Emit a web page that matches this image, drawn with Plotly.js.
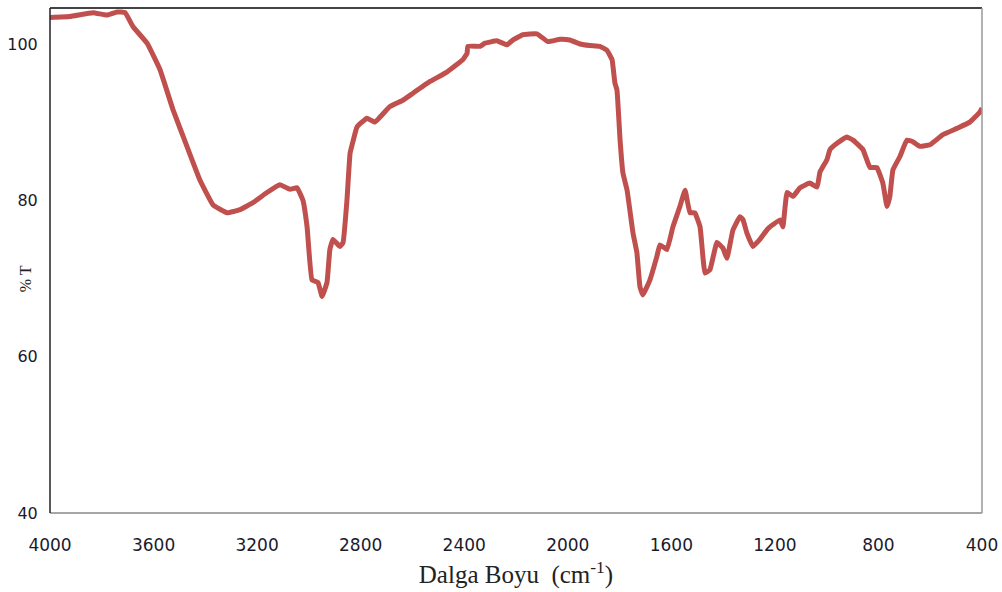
<!DOCTYPE html>
<html>
<head>
<meta charset="utf-8">
<script src="https://cdn.plot.ly/plotly-3.0.1.min.js"></script>
<style>html,body{margin:0;padding:0;background:#fff;}#chart{width:1002px;height:592px;}</style>
</head>
<body>
<div id="chart"></div>
<script>
// Wavenumber (cm-1) and transmittance (%T)
const wavenumber = [4000,3923,3834,3780,3741,3710,3679,3625,3575,3525,3471,3421,3370,3316,3266,3216,3162,3112,3073,3046,3023,3007,2988,2965,2949,2930,2919,2907,2880,2868,2853,2841,2830,2814,2776,2745,2687,2637,2598,2532,2467,2405,2389,2386,2339,2320,2274,2235,2212,2173,2119,2077,2030,1992,1953,1914,1876,1849,1829,1818,1810,1798,1787,1771,1748,1733,1721,1710,1683,1656,1644,1617,1594,1567,1547,1528,1509,1489,1470,1451,1424,1401,1385,1362,1335,1323,1308,1285,1258,1231,1219,1207,1180,1169,1153,1130,1103,1065,1037,1026,999,987,960,922,898,860,833,806,783,767,756,744,717,690,667,640,601,551,497,447,408,400];
const transmittance = [103.4,103.5,104.0,103.7,104.1,104.0,102.2,100.1,96.7,91.6,86.9,82.6,79.4,78.4,78.8,79.7,81.0,82.0,81.4,81.6,80.0,76.6,69.8,69.5,67.7,69.5,73.7,75.0,74.1,74.6,80.0,86.0,87.5,89.4,90.5,90.0,92.0,92.8,93.7,95.2,96.4,98.0,98.8,99.7,99.7,100.1,100.4,99.9,100.5,101.2,101.3,100.3,100.6,100.5,100.0,99.8,99.7,99.2,98.0,95.0,94.1,87.7,83.5,81.3,75.8,73.3,68.9,67.9,69.8,72.8,74.3,73.7,76.6,79.2,81.3,78.4,78.4,76.6,70.7,71.1,74.6,73.9,72.6,76.2,77.9,77.5,75.8,74.1,75.0,76.2,76.6,76.9,77.5,76.6,81.0,80.5,81.6,82.2,81.7,83.6,85.2,86.5,87.3,88.1,87.7,86.5,84.2,84.2,82.2,79.2,80.5,83.9,85.6,87.7,87.5,86.9,87.1,88.4,89.2,90.0,91.3,91.8];
const xTicks = [4000,3600,3200,2800,2400,2000,1600,1200,800,400];
const yTicks = [40,60,80,100];

const trace = {
  x: wavenumber, y: transmittance, type: 'scatter', mode: 'lines',
  line: {color: '#C0504D', width: 5, shape: 'spline', smoothing: 0.3},
  hoverinfo: 'x+y'
};

const layout = {
  width: 1002, height: 592,
  margin: {l: 50, r: 20, t: 8, b: 79},
  paper_bgcolor: '#fff', plot_bgcolor: '#fff',
  showlegend: false,
  xaxis: {
    range: [4000, 400], tickmode: 'array', tickvals: xTicks, ticktext: xTicks.map(String),
    showgrid: false, zeroline: false, showline: false,
    ticks: 'outside', ticklen: 17, tickcolor: 'rgba(0,0,0,0)',
    tickfont: {family: 'DejaVu Sans, sans-serif', size: 17, color: '#1a1a2e'},
    title: {text: 'Dalga Boyu  (cm<sup>-1</sup>)', font: {family: 'Liberation Serif, serif', size: 25, color: '#222'}, standoff: 11}
  },
  yaxis: {
    range: [40, 104.6], tickmode: 'array', tickvals: yTicks, ticktext: yTicks.map(String),
    showgrid: false, zeroline: false, showline: false,
    ticks: 'outside', ticklen: 8, tickcolor: 'rgba(0,0,0,0)',
    tickfont: {family: 'DejaVu Sans, sans-serif', size: 16, color: '#1a1a2e'}
  },
  annotations: [
    {text: '% T', xref: 'paper', yref: 'paper', x: -0.0268, y: 0.463, xanchor: 'center', yanchor: 'middle',
     textangle: -90, showarrow: false, font: {family: 'Liberation Serif, serif', size: 16, color: '#222'}}
  ],
  shapes: [
    {type: 'line', xref: 'paper', yref: 'paper', x0: 0, x1: 1, y0: 1, y1: 1, line: {color: '#444', width: 2}},
    {type: 'line', xref: 'paper', yref: 'paper', x0: 0, x1: 1, y0: 0, y1: 0, line: {color: '#888', width: 1.5}},
    {type: 'line', xref: 'paper', yref: 'paper', x0: 0, x1: 0, y0: 0, y1: 1, line: {color: '#222', width: 1.5}},
    {type: 'line', xref: 'paper', yref: 'paper', x0: 1, x1: 1, y0: 0, y1: 1, line: {color: '#999', width: 1.5}}
  ]
};

Plotly.newPlot('chart', [trace], layout, {displayModeBar: false, staticPlot: true});
</script>
</body>
</html>
